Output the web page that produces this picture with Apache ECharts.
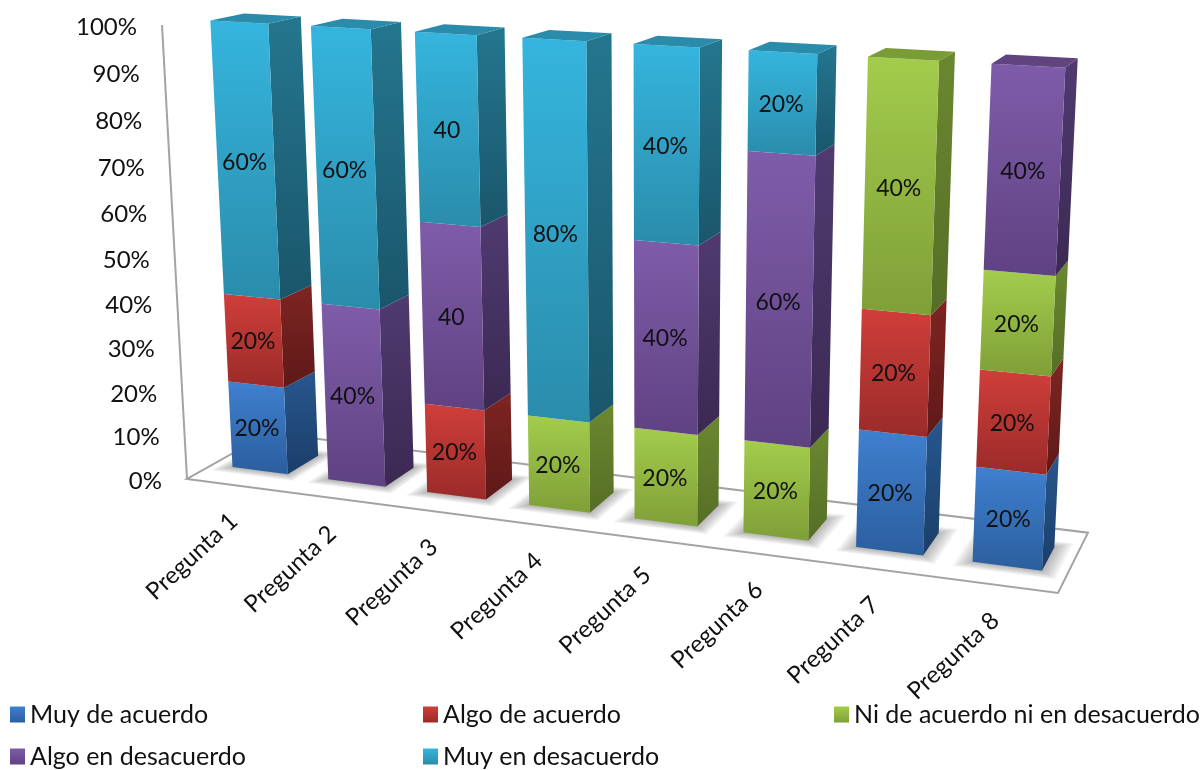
<!DOCTYPE html>
<html lang="es">
<head>
<meta charset="utf-8">
<title>Encuesta por pregunta</title>
<script src="https://cdn.jsdelivr.net/npm/echarts@6/dist/echarts.min.js"></script>
<style>html,body{margin:0;background:#fff}#grafico{width:1200px;height:770px}</style>
</head>
<body>
<div id="grafico"></div>
<script>
// Respuestas por pregunta, en porcentaje
const preguntas = ['Pregunta 1','Pregunta 2','Pregunta 3','Pregunta 4','Pregunta 5','Pregunta 6','Pregunta 7','Pregunta 8'];
const muyDeAcuerdo     = [20, 0,  0,  0,  0,  0, 20, 20];
const algoDeAcuerdo    = [20, 0, 20,  0,  0,  0, 20, 20];
const niDeAcuerdo      = [ 0, 0,  0, 20, 20, 20, 40, 20];
const algoEnDesacuerdo = [ 0, 40, 40, 0, 40, 60,  0, 40];
const muyEnDesacuerdo  = [60, 60, 40, 80, 40, 20, 0,  0];
const marcasEje = [0,10,20,30,40,50,60,70,80,90,100];
// Rótulos de la Pregunta 3 que se escribieron sin el signo de porcentaje: [respuesta, pregunta]
const rotulosSinSigno = [[3,2],[4,2]];

const respuestas = [
  {nombre:'Muy de acuerdo', valores:muyDeAcuerdo, frente:['#3F80CF','#2B5E9E'], lado:['#27578F','#1B3E68'], tapa:'#2F69AD'},
  {nombre:'Algo de acuerdo', valores:algoDeAcuerdo, frente:['#CF3E3A','#9A2B29'], lado:['#7E2523','#5E1917'], tapa:'#A02E2B'},
  {nombre:'Ni de acuerdo ni en desacuerdo', valores:niDeAcuerdo, frente:['#A3CC4C','#7F9F38'], lado:['#6B8830','#556E26'], tapa:'#7A9C36'},
  {nombre:'Algo en desacuerdo', valores:algoEnDesacuerdo, frente:['#7F5CA9','#5F4282'], lado:['#503A70','#3B2952'], tapa:'#5F4480'},
  {nombre:'Muy en desacuerdo', valores:muyEnDesacuerdo, frente:['#35B5DE','#2A8CAB'], lado:['#24768F','#1A566B'], tapa:'#2A8CAA'}
];

// Caja 3D de la gráfica en pantalla: cara frontal (valor/categoría) y fondo del suelo
const caja = {
  frente: [[187,479],[1058,593],[1083,77],[162,25]],
  fondoIzq: [269,433],
  fondoDer: [1088,533]
};
const prof = {delante:0.30, detras:0.69};
const anchoBarra = 0.58;
const fuente = 'Lato, sans-serif';
const letraRotulo = 23, letraEje = 24, letraCategoria = 24, letraLeyenda = 25;

// Homografía del cuadrado unidad al frente de la caja
function homografia(q){
  const [[x0,y0],[x1,y1],[x2,y2],[x3,y3]] = q;
  const dx1=x1-x2, dx2=x3-x2, sx=x0-x1+x2-x3;
  const dy1=y1-y2, dy2=y3-y2, sy=y0-y1+y2-y3;
  const den=dx1*dy2-dx2*dy1;
  const g=(sx*dy2-dx2*sy)/den, h=(dx1*sy-sx*dy1)/den;
  return {a:x1-x0+g*x1, b:x3-x0+h*x3, c:x0, d:y1-y0+g*y1, e:y3-y0+h*y3, f:y0, g, h};
}
const H = homografia(caja.frente);
// Vector de profundidad homogéneo, elegido para que el suelo termine en los dos vértices del fondo
const kProf = (H.a - H.g*caja.fondoDer[0])/(caja.fondoDer[0]-caja.fondoIzq[0]);
const D = {
  x: kProf*caja.fondoIzq[0]-H.c,
  y: kProf*caja.fondoIzq[1]-H.f,
  w: kProf-1
};
function proyectar(u,v,z){
  const W=H.g*u+H.h*v+1+z*D.w;
  return [(H.a*u+H.b*v+H.c+z*D.x)/W,(H.d*u+H.e*v+H.f+z*D.y)/W];
}

// Pasa un punto de la rejilla plana (escalas de ECharts) a la perspectiva
function aCaja(params,px,py,z){
  const c=params.coordSys;
  return proyectar((px-c.x)/c.width,(c.y+c.height-py)/c.height,z);
}
const degradado=(par)=>new echarts.graphic.LinearGradient(0,0,0,1,[{offset:0,color:par[0]},{offset:1,color:par[1]}]);

function dibujarTramo(r,ir,esTapa){
  return function(params,api){
    const i=api.value(0), base=api.value(1), tope=api.value(2), valor=api.value(3);
    const banda=api.size([1,0])[0], cx=api.coord([i,0])[0], semi=banda*anchoBarra/2;
    const y0=api.coord([i,base])[1], y1=api.coord([i,tope])[1];
    const P=(x,y,z)=>aCaja(params,x,y,z);
    const {delante:zA,detras:zB}=prof;
    const hijos=[
      {type:'polygon',shape:{points:[P(cx+semi,y1,zA),P(cx+semi,y1,zB),P(cx+semi,y0,zB),P(cx+semi,y0,zA)]},style:{fill:degradado(r.lado)}},
      {type:'polygon',shape:{points:[P(cx-semi,y1,zA),P(cx+semi,y1,zA),P(cx+semi,y0,zA),P(cx-semi,y0,zA)]},style:{fill:degradado(r.frente)}}
    ];
    if(esTapa(i,tope)){
      hijos.push({type:'polygon',shape:{points:[P(cx-semi,y1,zA),P(cx-semi,y1,zB),P(cx+semi,y1,zB),P(cx+semi,y1,zA)]},style:{fill:r.tapa}});
    }
    const centro=P(cx,(y0+y1)/2,zA);
    const sinSigno=rotulosSinSigno.some(p=>p[0]===ir&&p[1]===i);
    hijos.push({type:'text',x:centro[0]-1,y:centro[1]+1,style:{text:valor+(sinSigno?'':'%'),align:'center',verticalAlign:'middle',fill:'#111',font:letraRotulo+'px '+fuente}});
    return {type:'group',children:hijos};
  };
}

// Columnas apiladas al 100 %: cada respuesta ocupa su parte del total de la pregunta
const totales=preguntas.map((_,i)=>respuestas.reduce((s,r)=>s+r.valores[i],0));
const acumulado=preguntas.map(()=>0);
const seriesTramos=respuestas.map((r,ir)=>{
  const datos=[];
  r.valores.forEach((v,i)=>{
    if(v>0){
      const parte=v/totales[i]*100;
      datos.push([i,acumulado[i],acumulado[i]+parte,v]);
      acumulado[i]+=parte;
    }
  });
  return {
    type:'custom',name:r.nombre,coordinateSystem:'cartesian2d',
    itemStyle:{color:degradado(r.frente)},
    encode:{x:0,y:[1,2]},data:datos,
    renderItem:dibujarTramo(r,ir,(i,tope)=>tope>=acumulado[i]-1e-6)
  };
});

// Suelo y eje vertical
const serieCaja={
  type:'custom',name:'caja',coordinateSystem:'cartesian2d',silent:true,encode:{x:0,y:1},data:[[0,0]],
  renderItem(params,api){
    const trazo={stroke:'#a3a3a3',lineWidth:2,fill:null};
    return {type:'group',children:[
      {type:'polygon',shape:{points:[proyectar(0,0,0),proyectar(1,0,0),proyectar(1,0,1),proyectar(0,0,1)]},style:{fill:'#fff',stroke:'#a3a3a3',lineWidth:2}},
      {type:'polyline',shape:{points:[proyectar(0,1,0),proyectar(0,0,0)]},style:trazo}
    ]};
  }
};
// Sombra difusa de cada barra sobre el suelo: capas translúcidas cada vez más anchas
const capasSombra=[1,2,3,4,5,6,7,8];
const serieSombras={
  type:'custom',name:'sombras',coordinateSystem:'cartesian2d',silent:true,encode:{x:0,y:1},
  data:preguntas.map((_,i)=>[i,0]),
  renderItem(params,api){
    const i=api.value(0),banda=api.size([1,0])[0],cx=api.coord([i,0])[0],semi=banda*anchoBarra/2,y=api.coord([i,0])[1];
    const P=(x,z)=>aCaja(params,x,y,z);
    const {delante:a,detras:b}=prof;
    return {type:'group',children:capasSombra.map(k=>{
      const dx=k*1.7, dz=k*0.013;
      return {type:'polygon',shape:{points:[P(cx-semi-dx,a-dz),P(cx+semi+dx,a-dz),P(cx+semi+dx,b+dz),P(cx-semi-dx,b+dz)]},
        style:{fill:'rgba(80,80,80,0.055)'}};
    })};
  }
};
// Etiquetas del eje de valores, junto a la línea vertical
const serieMarcas={
  type:'custom',name:'marcas',coordinateSystem:'cartesian2d',silent:true,encode:{x:0,y:1},
  data:marcasEje.map(m=>[0,m]),
  renderItem(params,api){
    const m=api.value(1),y=api.coord([0,m])[1];
    const p=aCaja(params,params.coordSys.x,y,0);
    return {type:'text',x:p[0]-25,y:p[1]+2,style:{text:m+'%',align:'right',verticalAlign:'middle',fill:'#111',font:letraEje+'px '+fuente}};
  }
};
// Nombres de las preguntas, girados bajo el borde delantero
const serieCategorias={
  type:'custom',name:'categorias',coordinateSystem:'cartesian2d',silent:true,encode:{x:0,y:1},
  data:preguntas.map((_,i)=>[i,0]),
  renderItem(params,api){
    const i=api.value(0),c=api.coord([i,0]);
    const p=aCaja(params,c[0],c[1],0);
    return {type:'text',x:p[0]-1,y:p[1]+32,rotation:43*Math.PI/180,style:{text:preguntas[i],align:'right',verticalAlign:'middle',fill:'#111',font:letraCategoria+'px '+fuente}};
  }
};

// Una leyenda por entrada para fijar sus dos filas y tres columnas
const colLeyenda=[10,423,834], filaLeyenda=[702,744];
const leyendas=respuestas.map((r,k)=>({
  data:[r.nombre],left:colLeyenda[k%3],top:filaLeyenda[Math.floor(k/3)],padding:0,
  icon:'rect',itemWidth:15,itemHeight:16,selectedMode:false,
  textStyle:{fontFamily:fuente,fontSize:letraLeyenda,lineHeight:16,color:'#111'}
}));

const grafico=echarts.init(document.getElementById('grafico'),null,{renderer:'canvas'});
grafico.setOption({
  animation:false,
  backgroundColor:'#fff',
  legend:leyendas,
  grid:{left:100,top:100,width:800,height:400},
  xAxis:{type:'category',data:preguntas,show:false},
  yAxis:{type:'value',min:0,max:100,interval:10,show:false},
  series:[serieCaja,serieSombras,...seriesTramos,serieMarcas,serieCategorias]
});
</script>
</body>
</html>
